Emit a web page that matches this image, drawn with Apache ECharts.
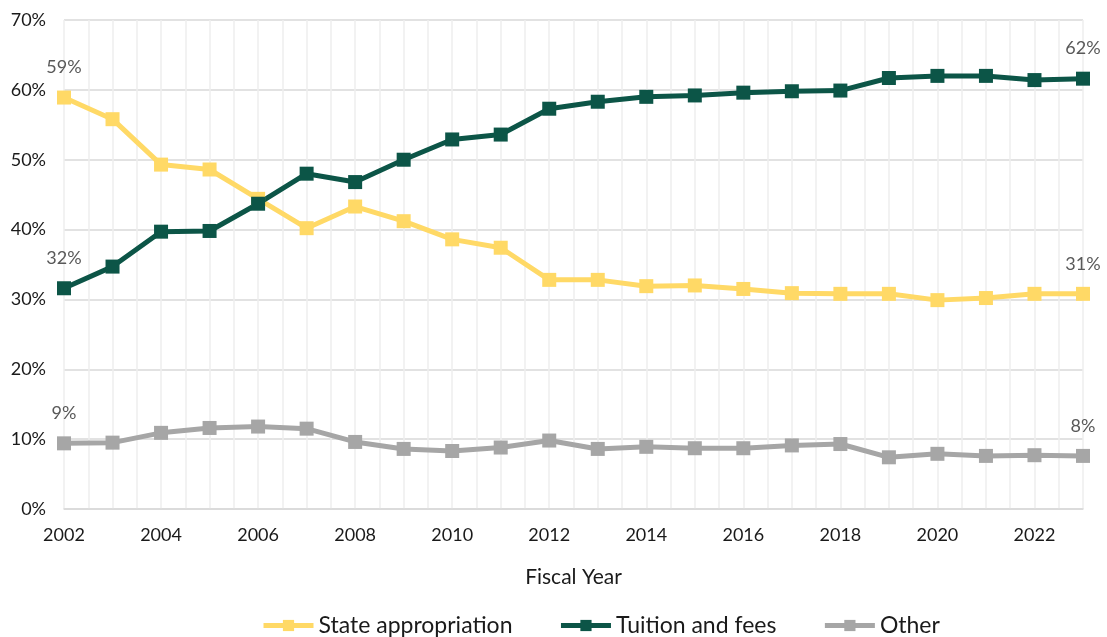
<!DOCTYPE html>
<html>
<head>
<meta charset="utf-8">
<script src="https://cdn.jsdelivr.net/npm/echarts@6/dist/echarts.min.js"></script>
<style>
  html, body { margin: 0; padding: 0; background: #ffffff; }
  #chart { width: 1107px; height: 637px; }
</style>
</head>
<body>
<div id="chart"></div>
<script>
// Revenue shares by source, fiscal years 2002-2023 (percent of total)
const years = [2002, 2003, 2004, 2005, 2006, 2007, 2008, 2009, 2010, 2011, 2012,
               2013, 2014, 2015, 2016, 2017, 2018, 2019, 2020, 2021, 2022, 2023];
const stateAppropriation = [58.9, 55.8, 49.3, 48.6, 44.4, 40.2, 43.3, 41.2, 38.6, 37.4, 32.8,
                            32.8, 31.9, 32.0, 31.5, 30.9, 30.8, 30.8, 29.9, 30.2, 30.8, 30.8];
const tuitionAndFees = [31.6, 34.7, 39.7, 39.8, 43.7, 48.0, 46.8, 50.0, 52.9, 53.6, 57.3,
                        58.3, 59.0, 59.2, 59.6, 59.8, 59.9, 61.7, 62.0, 62.0, 61.4, 61.6];
const other = [9.4, 9.5, 10.9, 11.6, 11.8, 11.5, 9.6, 8.6, 8.3, 8.8, 9.8,
               8.6, 8.9, 8.7, 8.7, 9.1, 9.3, 7.4, 7.9, 7.6, 7.7, 7.6];
const yTicks = [0, 10, 20, 30, 40, 50, 60, 70];

const FONT = 'Lato, "Open Sans", sans-serif';

function pairs(values) {
  return years.map((y, i) => [y, values[i]]);
}

// Value labels only at the first and last year of each series
function endLabels() {
  return {
    show: true,
    position: 'top',
    distance: 14,
    fontFamily: FONT,
    fontSize: 18,
    color: '#595959',
    formatter: p => (p.dataIndex === 0 || p.dataIndex === years.length - 1)
      ? Math.round(p.value[1]) + '%' : ''
  };
}

function makeSeries(name, values, color) {
  return {
    name: name,
    type: 'line',
    data: pairs(values),
    symbol: 'rect',
    symbolSize: 14,
    lineStyle: { width: 5, color: color },
    itemStyle: { color: color },
    label: endLabels(),
    emphasis: { disabled: true },
    z: 3
  };
}

const chart = echarts.init(document.getElementById('chart'), null, { renderer: 'canvas' });
chart.setOption({
  animation: false,
  backgroundColor: '#ffffff',
  grid: { left: 64, right: 24, top: 20, bottom: 128, containLabel: false },
  legend: {
    bottom: -5,
    left: 256,
    itemWidth: 50,
    itemHeight: 14,
    itemGap: 46,
    lineStyle: { width: 5 },
    textStyle: { fontFamily: FONT, fontSize: 23, color: '#1a1a1a' },
    data: ['State appropriation', 'Tuition and fees', 'Other']
  },
  xAxis: {
    type: 'value',
    min: years[0],
    max: years[years.length - 1],
    interval: 0.5,
    name: 'Fiscal Year',
    nameLocation: 'middle',
    nameGap: 58,
    nameTextStyle: { fontFamily: FONT, fontSize: 21, color: '#1a1a1a' },
    axisLine: { show: true, lineStyle: { color: '#d9d9d9', width: 1.5 } },
    axisTick: { show: false },
    axisLabel: {
      fontFamily: FONT,
      fontSize: 18,
      color: '#1a1a1a',
      margin: 17,
      formatter: v => (Number.isInteger(v) && v % 2 === 0) ? String(v) : ''
    },
    splitLine: { show: true, lineStyle: { color: '#eeeeee', width: 1.5 } }
  },
  yAxis: {
    type: 'value',
    min: yTicks[0],
    max: yTicks[yTicks.length - 1],
    interval: 10,
    axisLine: { show: false },
    axisTick: { show: false },
    axisLabel: {
      fontFamily: FONT,
      fontSize: 18,
      color: '#1a1a1a',
      margin: 18,
      formatter: v => v + '%'
    },
    splitLine: { show: true, lineStyle: { color: '#d9d9d9', width: 1.5 } }
  },
  series: [
    makeSeries('State appropriation', stateAppropriation, '#ffd966'),
    makeSeries('Tuition and fees', tuitionAndFees, '#0c5547'),
    makeSeries('Other', other, '#a6a6a6')
  ]
});
</script>
</body>
</html>
